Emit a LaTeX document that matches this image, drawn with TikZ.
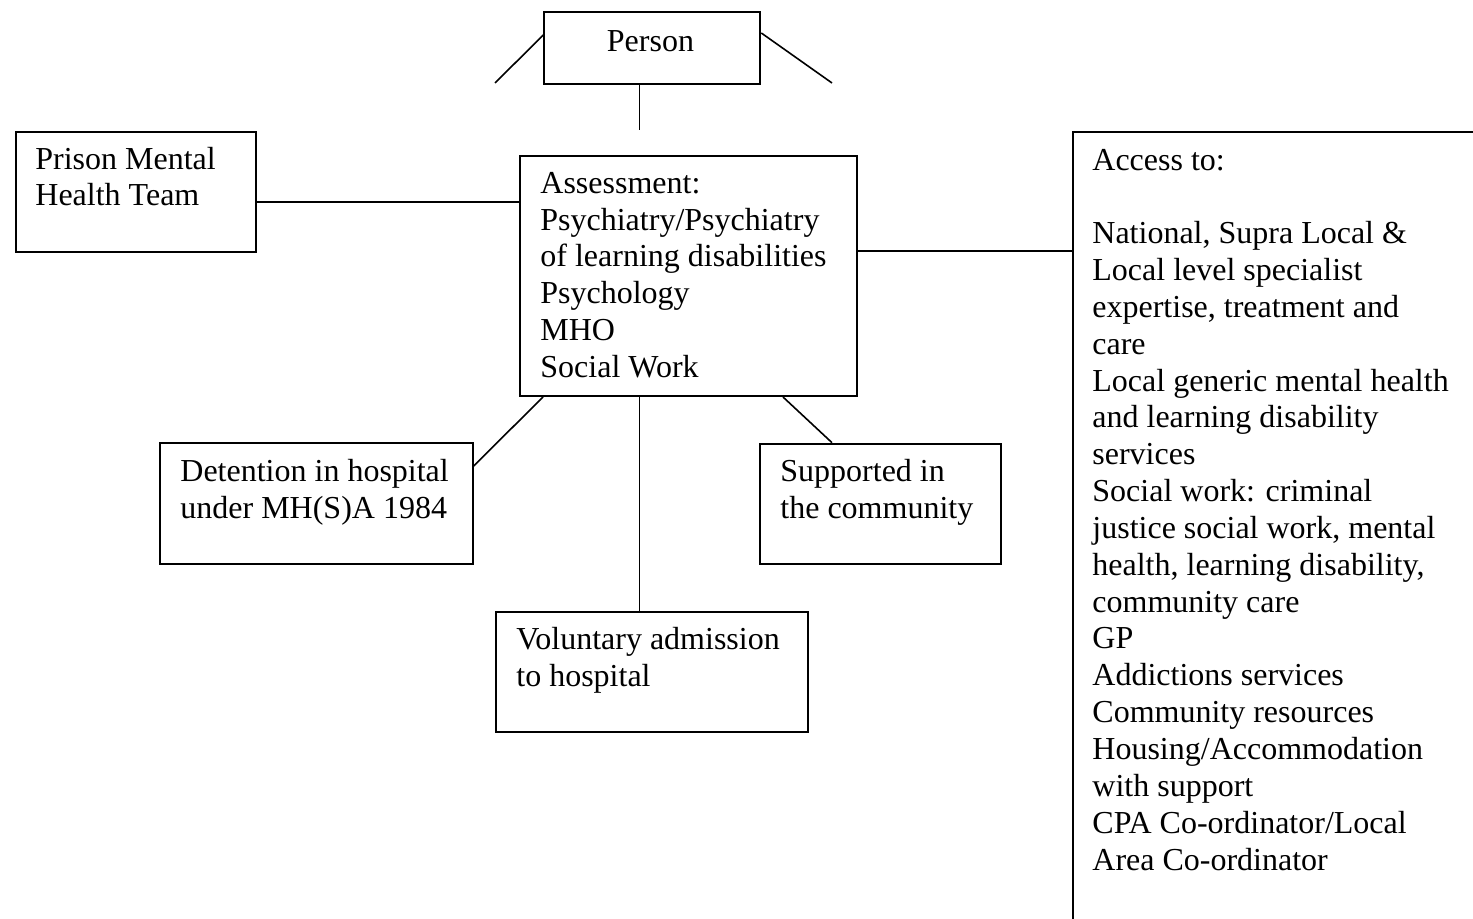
\documentclass[tikz,border=0pt]{standalone}
\usepackage{fontspec}
\setmainfont{Liberation Serif}
\usetikzlibrary{calc}
\begin{document}
\begin{tikzpicture}[x=0.5pt,y=-0.5pt,
  box/.style={draw, line width=1pt, rectangle, inner sep=0pt, anchor=north west},
  link/.style={line width=0.8pt},
  % multi-line texts are placed by the baseline of their last line
  txt/.style={inner sep=0pt, anchor=base west, align=left,
    font=\fontsize{16pt}{18.42pt}\selectfont}]
\useasboundingbox (0,0) rectangle (1473,919);
\clip (0,0) rectangle (1473,919);

% boxes (sizes in px units)
\node[box, minimum width=216pt*0.5, minimum height=72pt*0.5] (person) at (543.3,10.7) {};
\node[box, minimum width=240pt*0.5, minimum height=120pt*0.5] (prison) at (15,131) {};
\node[box, minimum width=336.7pt*0.5, minimum height=240pt*0.5] (assess) at (519,155) {};
\node[box, minimum width=313pt*0.5, minimum height=120.4pt*0.5] (det) at (158.7,442.3) {};
\node[box, minimum width=241pt*0.5, minimum height=120.3pt*0.5] (sup) at (759,442.7) {};
\node[box, minimum width=312pt*0.5, minimum height=120pt*0.5] (vol) at (495,610.7) {};
\node[box, minimum width=480pt*0.5, minimum height=860pt*0.5] (access) at (1071.7,130.7) {};

% texts
\node[txt, anchor=base] (tperson) at (650.5,51.7) {Person};
\node[txt] (tprison) at (35,206) {Prison Mental\\Health Team};
\node[txt] (tassess) at (540,377.5) {Assessment:\\Psychiatry/Psychiatry\\of learning disabilities\\Psychology\\MHO\\Social Work};
\node[txt] (tdet) at (180,518.5) {Detention in hospital\\under MH(S)A 1984};
\node[txt] (tsup) at (780,518.7) {Supported in\\the community};
\node[txt] (tvol) at (516,686.8) {Voluntary admission\\to hospital};
\node[txt] (taccess) at (1092,870) {Access to:\\[18.42pt]National, Supra Local \&\\Local level specialist\\expertise, treatment and\\care\\Local generic mental health\\and learning disability\\services\\Social work: criminal\\justice social work, mental\\health, learning disability,\\community care\\GP\\Addictions services\\Community resources\\Housing/Accommodation\\with support\\CPA Co-ordinator/Local\\Area Co-ordinator};

% free ends of the stubs around the person box
\coordinate (stubL) at (495,83);
\coordinate (stubR) at (832,83);
\coordinate (stubD) at (639.3,130);

% connectors
\draw[link] (person.west |- 0,35) -- (stubL);
\draw[link] (person.east |- 0,33) -- (stubR);
\draw[link] (stubD |- person.south) -- (stubD);
\draw[link] (prison.east |- 0,202) -- (assess.west |- 0,202);
\draw[link] (assess.east |- 0,251) -- (access.west |- 0,251);
\draw[link] (assess.south -| 543,0) -- (det.east |- 0,466);
\draw[link] (assess.south -| 639.3,0) -- (vol.north -| 639.3,0);
\draw[link] (assess.south -| 783,0) -- (sup.north -| 832,0);
\end{tikzpicture}
\end{document}
